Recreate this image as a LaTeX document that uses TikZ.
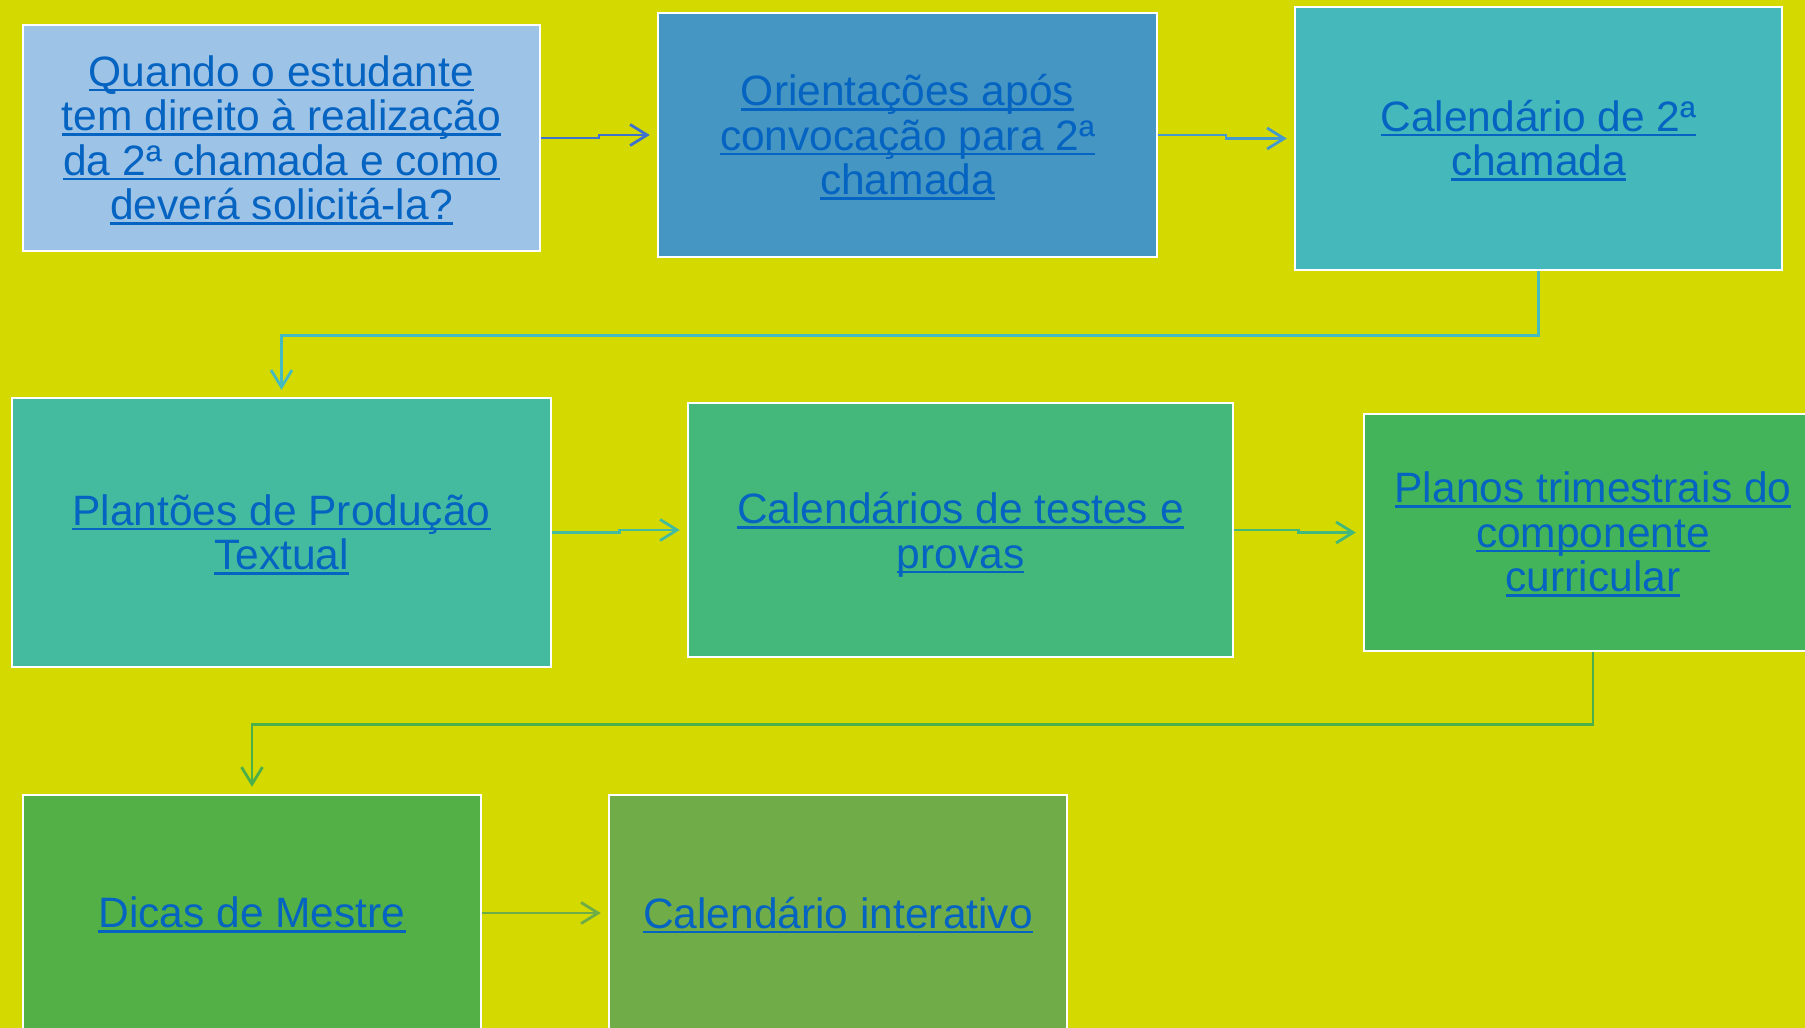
\documentclass[tikz,border=0pt]{standalone}
\usepackage{fontspec}
\setmainfont{Liberation Sans}
\usetikzlibrary{arrows.meta,calc}
\definecolor{bgc}{HTML}{D4D900}
\definecolor{linkc}{HTML}{0563C1}
\definecolor{cA}{HTML}{9DC3E6}
\definecolor{cB}{HTML}{4596C2}
\definecolor{cC}{HTML}{45B8BC}
\definecolor{cD}{HTML}{44BB9E}
\definecolor{cE}{HTML}{44B87A}
\definecolor{cF}{HTML}{44B45A}
\definecolor{cG}{HTML}{52B046}
\definecolor{cH}{HTML}{70AC48}
\definecolor{aA}{HTML}{3F72CC}
\definecolor{aB}{HTML}{4599CC}
\definecolor{aC}{HTML}{45BBC0}
\definecolor{aD}{HTML}{44BBA0}
\definecolor{aE}{HTML}{44B87A}
\definecolor{aF}{HTML}{4CB04A}
\definecolor{aG}{HTML}{6EAC48}
\newsavebox\ulbox
\newcommand\ulx[2][2pt]{\sbox\ulbox{#2}\raisebox{-#1}[\height][\depth]{\rlap{\rule[-5pt]{\wd\ulbox}{2.6pt}}\usebox\ulbox}}
\tikzset{
  box/.style={draw=white, line width=2.5pt, inner sep=0pt, align=center,
    text=linkc, font=\fontsize{42.5}{44.5}\selectfont},
  conn/.style={line width=2.8pt, -{Straight Barb[length=17pt,width=21pt,line width=2.8pt]}, shorten >=7pt}
}
\begin{document}
\begin{tikzpicture}[x=1pt,y=-1pt]
\useasboundingbox (0,0) rectangle (1805,1028);
\clip (0,0) rectangle (1805,1028);
\fill[bgc] (0,0) rectangle (1805,1028);
\node[box, fill=cA, minimum width=517pt, minimum height=226pt] (b1) at (281.5,138)
  {\ulx{Quando o estudante}\\\ulx{tem direito à realização}\\\ulx{da 2ª chamada e como}\\\ulx{deverá solicitá-la?}};
\node[box, fill=cB, minimum width=499pt, minimum height=244pt] (b2) at (907.5,135)
  {\ulx{Orientações após}\\\ulx{convocação para 2ª}\\\ulx{chamada}};
\node[box, fill=cC, minimum width=487pt, minimum height=263pt] (b3) at (1538.5,138.5)
  {\ulx{Calendário de 2ª}\\\ulx{chamada}};
\node[box, fill=cD, minimum width=539pt, minimum height=269pt] (b4) at (281.5,532.5)
  {\ulx{Plantões de Produção}\\\ulx{Textual}};
\node[box, fill=cE, minimum width=545pt, minimum height=254pt] (b5) at (960.5,530)
  {\ulx[5pt]{Calendários de testes e}\\\ulx[5pt]{provas}};
\node[box, fill=cF, minimum width=458pt, minimum height=237pt] (b6) at (1593,532.5)
  {\ulx{Planos trimestrais do}\\\ulx{componente}\\\ulx{curricular}};
\node[box, fill=cG, minimum width=458pt, minimum height=236pt] (b7) at (252,913)
  {\ulx{Dicas de Mestre}};
\node[box, fill=cH, minimum width=458pt, minimum height=236pt] (b8) at (838,913)
  {\ulx{Calendário interativo}};
\coordinate (m12) at ($(b1.east)!.5!(b2.west)$);
\coordinate (m23) at ($(b2.east)!.5!(b3.west)$);
\coordinate (m45) at ($(b4.east)!.5!(b5.west)$);
\coordinate (m56) at ($(b5.east)!.5!(b6.west)$);
\draw[conn, aA] (b1.east) -| (m12) |- (b2.west);
\draw[conn, aB] (b2.east) -| (m23) |- (b3.west);
\draw[conn, aC] (b3.south) -- ++(0,64) -| (b4.north);
\draw[conn, aD] (b4.east) -| (m45) |- (b5.west);
\draw[conn, aE] (b5.east) -| (m56) |- (b6.west);
\draw[conn, aF] (b6.south) -- ++(0,72) -| (b7.north);
\draw[conn, aG] (b7.east) -- (b8.west);
\end{tikzpicture}
\end{document}
